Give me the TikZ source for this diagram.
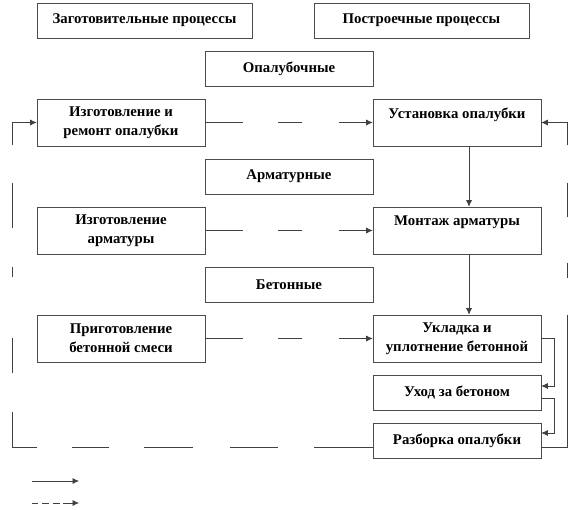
\documentclass[tikz,border=0pt]{standalone}
\usepackage{fontspec}
\setmainfont{Liberation Serif}
\usetikzlibrary{arrows.meta,calc}
\tikzset{
  box/.style={draw=black!70, line width=0.6pt, fill=white, inner sep=0pt, align=center,
    font=\bfseries\fontsize{14.8}{19}\selectfont},
  conn/.style={draw=black!75, line width=0.6pt},
  tip/.style={-{Latex[length=6.5pt,width=6pt]}},
  hdash/.style={dash pattern=on 38pt off 35pt on 24pt off 37pt on 34pt},
}
\begin{document}
\begin{tikzpicture}[x=1pt,y=-1pt]
\useasboundingbox (0,0) rectangle (578,509);
% top headers
\node[box, minimum width=215pt, minimum height=35pt] (zag) at (144.5,20.5) {Заготовительные процессы};
\node[box, minimum width=215pt, minimum height=35pt] (post) at (421.5,20.5) {Построечные процессы};
% group headers
\node[box, minimum width=168pt, minimum height=35pt] (opal) at (289,68.5) {Опалубочные};
\node[box, minimum width=168pt, minimum height=35pt] (arm) at (289,176.5) {Арматурные};
\node[box, minimum width=168pt, minimum height=35pt] (bet) at (289,284.5) {Бетонные};
% left column
\node[box, minimum width=168pt, minimum height=47pt] (izg1) at (121,122.5) {Изготовление и\\ремонт опалубки};
\node[box, minimum width=168pt, minimum height=47pt] (izg2) at (121,230.5) {Изготовление\\арматуры};
\node[box, minimum width=168pt, minimum height=47pt] (prig) at (121,338.5) {Приготовление\\бетонной смеси};
% right column
\node[box, minimum width=168pt, minimum height=47pt] (ust) at (457,122.5) {Установка опалубки\\\phantom{Х}};
\node[box, minimum width=168pt, minimum height=47pt] (mont) at (457,230.5) {Монтаж арматуры\\\phantom{Х}};
\node[box, minimum width=168pt, minimum height=47pt] (ukl) at (457,338.5) {Укладка и\\уплотнение бетонной};
\node[box, minimum width=168pt, minimum height=35pt] (uhod) at (457,392.5) {Уход за бетоном};
\node[box, minimum width=168pt, minimum height=35pt] (razb) at (457,440.5) {Разборка опалубки};
% horizontal dashed connectors
\draw[conn, hdash, tip] (izg1.east) -- (ust.west);
\draw[conn, hdash, tip] (izg2.east) -- (mont.west);
\draw[conn, hdash, tip] (prig.east) -- (ukl.west);
% vertical connectors
\draw[conn, tip] ([xshift=12pt]ust.south) -- ([xshift=12pt]mont.north);
\draw[conn, tip] ([xshift=12pt]mont.south) -- ([xshift=12pt]ukl.north);
% right side small connectors
\draw[conn, tip] (ukl.east) -- ++(13,0) |- ([yshift=6.5pt]uhod.east);
\draw[conn, tip] ([yshift=-5.5pt]uhod.east) -- ++(13,0) |- ([yshift=7.5pt]razb.east);
% right loop
\draw[conn, tip, dash pattern=on 158pt off 37pt on 15pt off 46pt on 34pt off 38pt on 49pt]
  ([yshift=-6.5pt]razb.east) -- ++(26,0) |- (ust.east);
% left loop
\draw[conn, tip, dash pattern=on 59pt off 36pt on 48pt off 37pt on 49pt off 35pt on 37pt off 35pt on 59pt off 39pt on 35pt off 61pt on 10pt off 39pt on 45pt off 38pt on 47pt]
  ([yshift=-6.5pt]razb.west) -- ++(-360,0) |- (izg1.west);
% legend
\coordinate (l1a) at (32,481);
\coordinate (l1b) at (79,481);
\coordinate (l2a) at (32,503);
\coordinate (l2b) at (79,503);
\draw[conn, tip] (l1a) -- (l1b);
\draw[conn, tip, dash pattern=on 6pt off 4pt on 7pt off 4pt on 7pt off 3pt on 16pt] (l2a) -- (l2b);
\end{tikzpicture}
\end{document}
